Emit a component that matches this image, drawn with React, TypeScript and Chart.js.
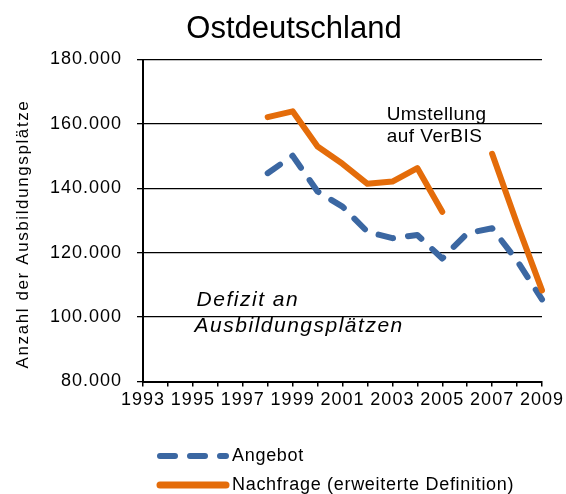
import React, { useEffect, useRef } from "react";
import { Chart, registerables } from "chart.js";

Chart.register(...registerables);

const chartTitle = "Ostdeutschland";
const yAxisTitle = "Anzahl der Ausbildungsplätze";
const years = [1998, 1999, 2000, 2001, 2002, 2003, 2004, 2005, 2006, 2007, 2008, 2009];
const angebot = [144700, 150100, 139000, 134300, 126500, 124500, 125500, 118200, 126000, 127600, 117500, 105500];
const nachfrage = [162100, 163900, 153000, 147600, 141400, 142100, 146300, 132700, null, 150700, 129000, 108300];
const seriesNames = ["Angebot", "Nachfrage (erweiterte Definition)"];
const xMin = 1993;
const xMax = 2009;
const yMin = 80000;
const yMax = 180000;
const yStep = 20000;
const noteVerbis = ["Umstellung", "auf VerBIS"];
const noteVerbisAt = { x: 2002.77, y: 161200 };
const noteDefizit = ["Defizit an", "Ausbildungsplätzen"];
const noteDefizitAt = { x: 1995.15, y: 103300 };

const BLUE = "#3B67A2";
const ORANGE = "#E46C0A";
const FONT = '"Liberation Sans", Arial, sans-serif';

const fmt = (v: number) => String(Math.round(v)).replace(/\B(?=(\d{3})+(?!\d))/g, ".");

export default function App() {
  const ref = useRef<HTMLCanvasElement>(null);

  useEffect(() => {
    document.body.style.margin = "0";
    const canvas = ref.current!;

    const textPlugin = {
      id: "texts",
      beforeDraw(chart: any) {
        chart.ctx.letterSpacing = "1px";
      },
      afterDraw(chart: any) {
        const ctx = chart.ctx as CanvasRenderingContext2D & { letterSpacing: string };
        const xs = chart.scales.x;
        const ys = chart.scales.y;
        ctx.save();
        ctx.fillStyle = "#000";

        // title
        ctx.letterSpacing = "0px";
        ctx.font = `31px ${FONT}`;
        ctx.textAlign = "center";
        ctx.textBaseline = "alphabetic";
        ctx.fillText(chartTitle, 294, 38);

        // y axis title
        ctx.save();
        ctx.translate(28, 234);
        ctx.rotate(-Math.PI / 2);
        ctx.letterSpacing = "1.6px";
        ctx.font = `17px ${FONT}`;
        ctx.textAlign = "center";
        ctx.fillText(yAxisTitle, 0, 0);
        ctx.restore();

        // annotations
        ctx.textAlign = "left";
        ctx.letterSpacing = "0.5px";
        ctx.font = `19px ${FONT}`;
        const vx = xs.getPixelForValue(noteVerbisAt.x);
        const vy = ys.getPixelForValue(noteVerbisAt.y);
        noteVerbis.forEach((t, i) => ctx.fillText(t, vx, vy + i * 22));

        ctx.letterSpacing = "1.5px";
        ctx.font = `italic 21px ${FONT}`;
        const dx = xs.getPixelForValue(noteDefizitAt.x);
        const dy = ys.getPixelForValue(noteDefizitAt.y);
        noteDefizit.forEach((t, i) => ctx.fillText(t, dx - (i === 1 ? 2 : 0), dy + i * 26));

        // legend
        const rows = [456, 485];
        chart.data.datasets.forEach((ds: any, i: number) => {
          const y = rows[i];
          ctx.save();
          ctx.strokeStyle = ds.borderColor;
          ctx.lineWidth = i === 0 ? 6 : 7;
          ctx.lineCap = "round";
          ctx.setLineDash(ds.borderDash || []);
          ctx.beginPath();
          ctx.moveTo(160, y);
          ctx.lineTo(226, y);
          ctx.stroke();
          ctx.restore();
          ctx.letterSpacing = "0.7px";
          ctx.font = `18px ${FONT}`;
          ctx.textAlign = "left";
          ctx.textBaseline = "middle";
          ctx.fillStyle = "#000";
          ctx.fillText(ds.label, 232, y);
        });

        ctx.restore();
        ctx.letterSpacing = "0px";
      },
    };

    const chart = new Chart(canvas, {
      type: "line",
      data: {
        datasets: [
          {
            label: seriesNames[0],
            data: years.map((x, i) => ({ x, y: angebot[i] })),
            borderColor: BLUE,
            backgroundColor: BLUE,
            borderWidth: 6,
            borderDash: [15, 15],
            borderCapStyle: "round",
            borderJoinStyle: "round",
            pointRadius: 0,
            tension: 0,
            clip: false,
            order: 1,
          },
          {
            label: seriesNames[1],
            data: years.map((x, i) => ({ x, y: nachfrage[i] })),
            borderColor: ORANGE,
            backgroundColor: ORANGE,
            borderWidth: 6,
            borderCapStyle: "round",
            borderJoinStyle: "round",
            pointRadius: 0,
            tension: 0,
            spanGaps: false,
            clip: false,
            order: 0,
          },
        ],
      } as any,
      options: {
        responsive: false,
        animation: false,
        devicePixelRatio: 1,
        layout: { padding: { left: 0, right: 24, top: 59.5, bottom: 82.5 } },
        plugins: {
          legend: { display: false },
          title: { display: false },
          tooltip: { enabled: false },
        },
        scales: {
          x: {
            type: "linear",
            min: xMin,
            max: xMax,
            afterFit(s: any) {
              s.height = 30;
            },
            ticks: {
              stepSize: 1,
              autoSkip: false,
              maxRotation: 0,
              color: "#000",
              font: { family: FONT, size: 18 },
              padding: 3,
              callback: (v: any) => (Number(v) % 2 === 1 ? String(v) : ""),
            },
            grid: {
              drawOnChartArea: false,
              drawTicks: true,
              tickLength: 5,
              color: "#000",
              lineWidth: 1.5,
            },
            border: { display: true, color: "#000", width: 2 },
          },
          y: {
            min: yMin,
            max: yMax,
            afterFit(s: any) {
              s.width = 143;
            },
            ticks: {
              stepSize: yStep,
              color: "#000",
              font: { family: FONT, size: 18 },
              padding: 15,
              callback: (v: any) => fmt(Number(v)),
            },
            grid: { color: "#000", lineWidth: 1.3, tickLength: 6 },
            border: { display: true, color: "#000", width: 2 },
          },
        },
      } as any,
      plugins: [textPlugin],
    });

    return () => chart.destroy();
  }, []);

  return (
    <div style={{ width: 566, height: 494 }}>
      <canvas ref={ref} width={566} height={494} style={{ display: "block" }} />
    </div>
  );
}
